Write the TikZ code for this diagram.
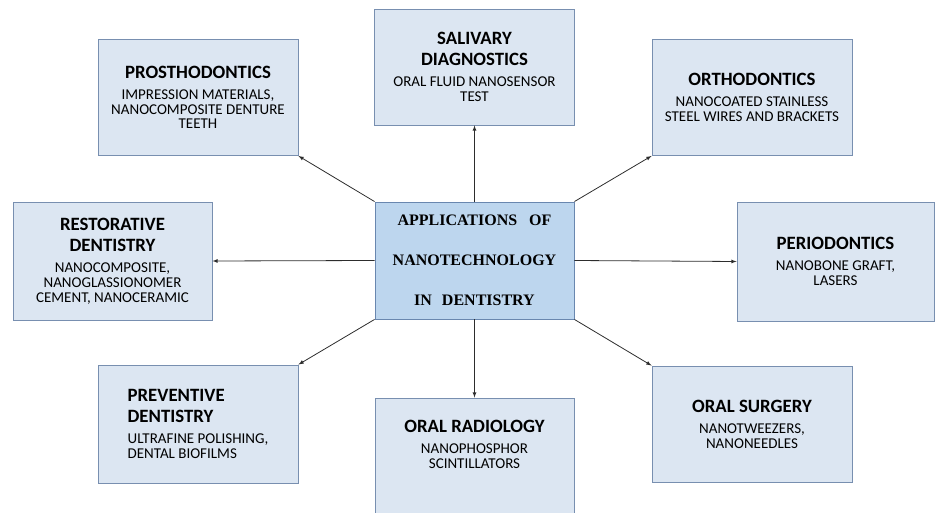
\documentclass[tikz,border=0pt]{standalone}
\usepackage{fontspec}
\setmainfont{Carlito}
\newfontfamily\hubfont{Liberation Serif}
\usepackage{tikz}
\usetikzlibrary{arrows}
\usetikzlibrary{arrows.meta}
\usetikzlibrary{shapes}
\definecolor{boxfill}{RGB}{220,230,242}
\definecolor{boxline}{RGB}{120,143,176}
\definecolor{hubfill}{RGB}{189,214,238}
\definecolor{hubline}{RGB}{105,135,175}
\definecolor{arrowc}{RGB}{45,45,45}
\newcommand{\boxhead}[1]{{\fontsize{18.8}{20}\selectfont\bfseries #1}}
\tikzset{>=latex}
\tikzstyle{topic} = [rectangle, draw=boxline, fill=boxfill, line width=0.9pt, minimum width=200, minimum height=116, inner sep=0, align=center, text=black, font=\fontsize{15}{14.7}\selectfont]
\tikzstyle{hub} = [rectangle, draw=hubline, fill=hubfill, line width=0.9pt, minimum width=199, minimum height=117, inner sep=0, align=center, font=\hubfont\bfseries\fontsize{16}{40}\selectfont]
\tikzstyle{link} = [-latex, draw=arrowc, line width=0.8pt]

\begin{document}
\begin{tikzpicture}[x=1pt, y=-1pt]
\useasboundingbox (0,0) rectangle (935,513);
\clip (0,0) rectangle (935,513);
\node [hub] (C) at (474.5,260.5) {APPLICATIONS\hspace{8pt} OF\\ NANOTECHNOLOGY\\ IN\hspace{6pt} DENTISTRY};
\node [topic] (P) at (198,97.5) {\boxhead{PROSTHODONTICS}\\[6.5pt] IMPRESSION MATERIALS,\\ NANOCOMPOSITE DENTURE\\ TEETH};
\node [topic] (S) at (474.5,67) {\boxhead{SALIVARY}\\[6.5pt] \boxhead{DIAGNOSTICS}\\[6.5pt] ORAL FLUID NANOSENSOR\\ TEST};
\node [topic] (O) at (752,97.5) {\boxhead{ORTHODONTICS}\\[6.5pt] NANOCOATED STAINLESS\\ STEEL WIRES AND BRACKETS};
\node [topic, minimum width=199, minimum height=118] (R) at (112.5,261) {\boxhead{RESTORATIVE}\\[6.5pt] \boxhead{DENTISTRY}\\[6.5pt] NANOCOMPOSITE,\\ NANOGLASSIONOMER\\ CEMENT, NANOCERAMIC};
\node [topic, minimum width=197, minimum height=119] (D) at (835.5,261.5) {\boxhead{PERIODONTICS}\\[6.5pt] NANOBONE GRAFT,\\ LASERS};
\node [topic, align=left, minimum height=118] (V) at (198,424) {\boxhead{PREVENTIVE}\\[6.5pt] \boxhead{DENTISTRY}\\[6.5pt] ULTRAFINE POLISHING,\\ DENTAL BIOFILMS};
\node [topic, minimum width=199, minimum height=118, label={[align=center, yshift=13pt, text=black, font=\fontsize{15}{14.7}\selectfont]center:{\boxhead{ORAL RADIOLOGY}\\[6.5pt] NANOPHOSPHOR\\ SCINTILLATORS}}] (Y) at (474.5,457) {};
\node [topic] (U) at (752,424) {\boxhead{ORAL SURGERY}\\[6.5pt] NANOTWEEZERS,\\ NANONEEDLES};
\draw [link] (C.north west) to (P.south east);
\draw [link] (C.north) to (S.south);
\draw [link] (C.north east) to (O.south west);
\draw [link] (C.west) to (R.east);
\draw [link] (C.east) to (D.west);
\draw [link] (C.south west) to (V.north east);
\draw [link] (C.south) to (Y.north);
\draw [link] (C.south east) to (U.north west);
\end{tikzpicture}
\end{document}
